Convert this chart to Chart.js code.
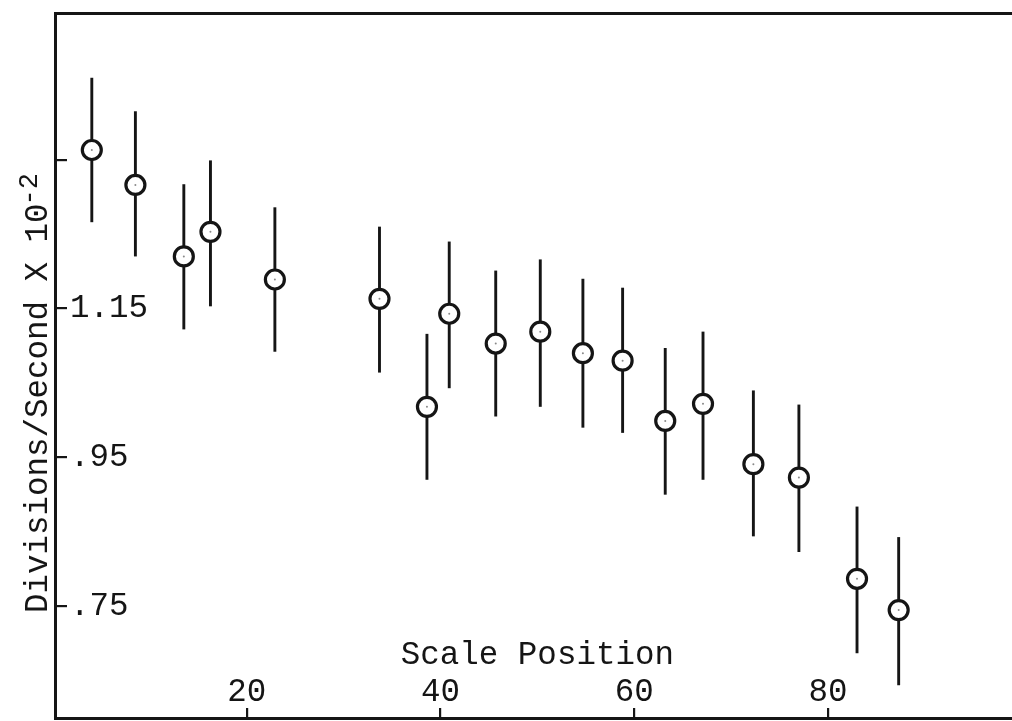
<!DOCTYPE html>
<html>
<head>
<meta charset="utf-8">
<script src="https://cdn.jsdelivr.net/npm/chart.js@4"></script>
<style>
  html, body { margin: 0; padding: 0; background: #fff; }
  canvas { display: block; }
</style>
</head>
<body>
<canvas id="rateChart" width="1012" height="721"></canvas>
<script>
// Scale position of each reading and the measured rate (divisions/second x 10^-2)
const positions = [4.0, 8.5, 13.5, 16.25, 22.9, 33.7, 38.6, 40.9, 45.7, 50.3, 54.7, 58.8, 63.2, 67.1, 72.3, 77.0, 83.0, 87.3];
const rates     = [1.363, 1.316, 1.220, 1.253, 1.189, 1.163, 1.018, 1.143, 1.103, 1.119, 1.090, 1.080, 0.999, 1.022, 0.941, 0.923, 0.787, 0.745];
const rateHigh  = [1.460, 1.415, 1.317, 1.349, 1.286, 1.260, 1.116, 1.240, 1.201, 1.216, 1.190, 1.178, 1.097, 1.119, 1.040, 1.021, 0.884, 0.843];
const rateLow   = [1.266, 1.220, 1.122, 1.153, 1.092, 1.064, 0.920, 1.043, 1.005, 1.018, 0.990, 0.983, 0.900, 0.920, 0.844, 0.823, 0.687, 0.644];

// Axis ticks
const xTicks = [20, 40, 60, 80];
const xTickLabels = ['20', '40', '60', '80'];
const yTicks = [0.75, 0.95, 1.15, 1.35];
const yTickLabels = ['.75', '.95', '1.15', ''];

const xTitle = 'Scale Position';
const yTitle = 'Divisions/Second X 10';
const yTitleExp = '-2';

const ink = '#151515';
const typeFace = '"Liberation Mono", "Courier New", monospace';
const typeSize = 32.5;

const points = positions.map((x, i) => ({ x: x, y: rates[i] }));

// keep the axes to a fixed size so the plot area runs edge to edge
function fixBox(w, h) {
  return s => {
    if (w !== null) s.width = w;
    if (h !== null) s.height = h;
    s.paddingTop = s.paddingBottom = s.paddingLeft = s.paddingRight = 0;
  };
}

// vertical error bars, drawn under the circles
const errorBars = {
  id: 'errorBars',
  beforeDatasetsDraw(chart) {
    const { ctx, scales: { x, y } } = chart;
    ctx.save();
    ctx.strokeStyle = ink;
    ctx.lineWidth = 2.9;
    ctx.lineCap = 'butt';
    positions.forEach((p, i) => {
      const px = x.getPixelForValue(p);
      ctx.beginPath();
      ctx.moveTo(px, y.getPixelForValue(rateHigh[i]));
      ctx.lineTo(px, y.getPixelForValue(rateLow[i]));
      ctx.stroke();
    });
    ctx.restore();
  }
};

// axis titles: x title sits inside the plot, y title carries a raised exponent
const axisTitles = {
  id: 'axisTitles',
  afterDraw(chart) {
    const { ctx, scales: { x } } = chart;
    ctx.save();
    ctx.fillStyle = ink;
    ctx.textBaseline = 'alphabetic';
    ctx.font = typeSize + 'px ' + typeFace;
    ctx.textAlign = 'center';
    ctx.fillText(xTitle, x.getPixelForValue(50), 664);

    ctx.translate(47, 613);
    ctx.rotate(-Math.PI / 2);
    ctx.textAlign = 'left';
    ctx.fillText(yTitle, 0, 0);
    const w = ctx.measureText(yTitle).width;
    ctx.font = '27px ' + typeFace;
    ctx.fillText(yTitleExp, w - 2, -10);
    ctx.restore();
  }
};

new Chart(document.getElementById('rateChart'), {
  type: 'scatter',
  data: {
    datasets: [
      {
        data: points,
        pointRadius: 1,
        pointBackgroundColor: '#8a8a8a',
        pointBorderWidth: 0,
        order: 0
      },
      {
        data: points,
        pointRadius: 9.5,
        pointBorderWidth: 3.2,
        pointBorderColor: ink,
        pointBackgroundColor: '#fff',
        order: 1
      }
    ]
  },
  options: {
    responsive: false,
    animation: false,
    devicePixelRatio: 1,
    layout: { autoPadding: false, padding: { top: 13, right: 0, bottom: 0, left: 0 } },
    plugins: { legend: { display: false }, tooltip: { enabled: false } },
    scales: {
      x: {
        type: 'linear',
        position: 'bottom',
        min: 0.2,
        max: 99,
        afterBuildTicks: s => { s.ticks = xTicks.map(v => ({ value: v })); },
        afterFit: fixBox(null, 3),
        ticks: {
          mirror: true,
          padding: 9,
          color: ink,
          font: { family: typeFace, size: typeSize, lineHeight: 1 },
          callback: (v) => xTickLabels[xTicks.indexOf(v)] ?? ''
        },
        grid: { drawOnChartArea: false, tickLength: -10, lineWidth: 2.2, color: ink },
        border: { display: true, width: 3, color: ink }
      },
      xTop: {
        type: 'linear',
        position: 'top',
        min: 0.2,
        max: 99,
        ticks: { display: false },
        grid: { display: false },
        afterFit: fixBox(null, 0),
        border: { display: true, width: 3, color: ink }
      },
      y: {
        type: 'linear',
        position: 'left',
        min: 0.6,
        max: 1.547,
        afterBuildTicks: s => { s.ticks = yTicks.map(v => ({ value: v })); },
        afterFit: fixBox(55, null),
        ticks: {
          mirror: true,
          padding: 15,
          color: ink,
          font: { family: typeFace, size: typeSize, lineHeight: 1 },
          callback: (v) => yTickLabels[yTicks.indexOf(v)] ?? ''
        },
        grid: { drawOnChartArea: false, tickLength: -12, lineWidth: 2.2, color: ink },
        border: { display: true, width: 3, color: ink }
      }
    }
  },
  plugins: [errorBars, axisTitles]
});
</script>
</body>
</html>
